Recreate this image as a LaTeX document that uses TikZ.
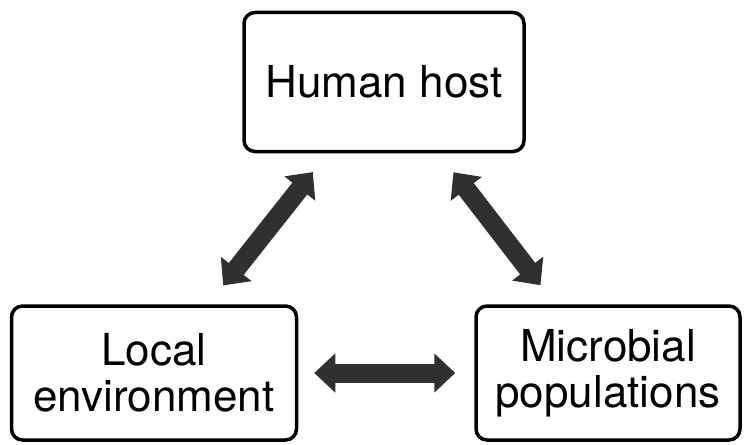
\documentclass[tikz,border=0pt]{standalone}
\usepackage{fontspec}
\setmainfont{TeX Gyre Heros}
\usetikzlibrary{arrows.meta}
\definecolor{arrowgray}{HTML}{303030}
\tikzset{
  box/.style={draw=black, line width=3.5pt, rounded corners=11pt, fill=white,
    align=center, inner sep=0pt, font=\fontsize{44}{46}\selectfont},
  bigarrow/.style={draw=arrowgray, line width=19pt,
    {Triangle[width=38pt,length=21pt]}-{Triangle[width=38pt,length=21pt]}}
}
\begin{document}
\begin{tikzpicture}[x=1pt,y=-1pt]
\useasboundingbox (0,0) rectangle (746,444);
\node[box, minimum width=280pt, minimum height=139pt] (human) at (384,82) {Human host};
\node[box, minimum width=285pt, minimum height=134pt] (local) at (154,373) {Local\\environment};
\node[box, minimum width=264pt, minimum height=134pt] (micro) at (608,373) {Microbial\\populations};
\draw[bigarrow, shorten <=24pt, shorten >=24pt] (local) -- (human);
\draw[bigarrow, shorten <=24pt, shorten >=24pt] (micro) -- (human);
\draw[bigarrow, shorten <=16pt, shorten >=19pt] (local.east) -- (micro.west);
\end{tikzpicture}
\end{document}
